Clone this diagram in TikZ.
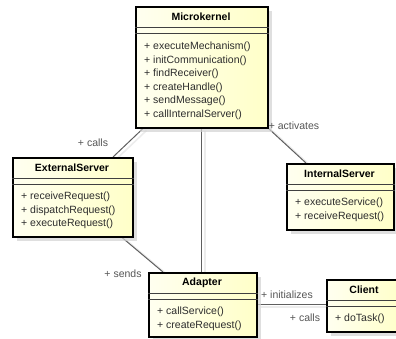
\documentclass[tikz,border=0pt]{standalone}
\usepackage{fontspec}
\setmainfont{Liberation Sans}
\usetikzlibrary{shadows,calc}
\pgfdeclarelayer{bg}
\pgfsetlayers{bg,main}
\definecolor{boxA}{RGB}{255,255,240}
\definecolor{boxB}{RGB}{255,255,200}
\definecolor{txt}{RGB}{45,45,45}
\definecolor{lbltxt}{RGB}{85,85,85}
\definecolor{connc}{RGB}{95,95,95}
\definecolor{connsh}{RGB}{236,236,236}
\begin{document}
\begin{tikzpicture}[x=1pt,y=-1pt,
  cls/.style={draw=black, line width=1.5pt, rectangle, inner sep=0pt, anchor=north west,
    left color=boxA, right color=boxB,
    drop shadow={shadow xshift=4pt, shadow yshift=-4pt, fill=black!18, opacity=0.7}},
  ctitle/.style={font=\fontsize{10.5}{12}\selectfont\bfseries, text=black, inner sep=0pt},
  meth/.style={font=\fontsize{10.5}{12}\selectfont, text=txt, inner sep=0pt, anchor=west},
  lbl/.style={font=\fontsize{10.5}{12}\selectfont, text=lbltxt, inner sep=0pt},
  sepl/.style={draw=black!75, line width=0.8pt},
  conn/.style={draw=connc, line width=1pt},
  connshadow/.style={draw=connsh, line width=1.6pt, transform canvas={xshift=3.5pt,yshift=-2pt}}
]
\useasboundingbox (0,0) rectangle (396,338);

% Microkernel
\node[cls, minimum width=132pt, minimum height=121pt] (mk) at (135,6) {};
\node[ctitle] (mkt) at (201,16.5) {Microkernel};
\draw[sepl] (mk.west |- 0,27) -- (mk.east |- 0,27);
\draw[sepl] (mk.west |- 0,33) -- (mk.east |- 0,33);
\node[meth] (mk1) at (144,47) {+ executeMechanism()};
\node[meth] (mk2) at (144,60.5) {+ initCommunication()};
\node[meth] (mk3) at (144,74) {+ findReceiver()};
\node[meth] (mk4) at (144,87.5) {+ createHandle()};
\node[meth] (mk5) at (144,101) {+ sendMessage()};
\node[meth] (mk6) at (144,114.5) {+ callInternalServer()};

% ExternalServer
\node[cls, minimum width=120pt, minimum height=79pt] (es) at (12,157) {};
\node[ctitle] (est) at (72,167.5) {ExternalServer};
\draw[sepl] (es.west |- 0,178) -- (es.east |- 0,178);
\draw[sepl] (es.west |- 0,184) -- (es.east |- 0,184);
\node[meth] (es1) at (21,197) {+ receiveRequest()};
\node[meth] (es2) at (21,210.5) {+ dispatchRequest()};
\node[meth] (es3) at (21,224) {+ executeRequest()};

% InternalServer
\node[cls, minimum width=107pt, minimum height=66pt] (is) at (286,163) {};
\node[ctitle] (ist) at (339.5,173.5) {InternalServer};
\draw[sepl] (is.west |- 0,184) -- (is.east |- 0,184);
\draw[sepl] (is.west |- 0,190) -- (is.east |- 0,190);
\node[meth] (is1) at (295,203) {+ executeService()};
\node[meth] (is2) at (295,216.5) {+ receiveRequest()};

% Adapter
\node[cls, minimum width=108pt, minimum height=64pt] (ad) at (148,272) {};
\node[ctitle] (adt) at (202,282.5) {Adapter};
\draw[sepl] (ad.west |- 0,293) -- (ad.east |- 0,293);
\draw[sepl] (ad.west |- 0,299) -- (ad.east |- 0,299);
\node[meth] (ad1) at (157,312) {+ callService()};
\node[meth] (ad2) at (157,325.5) {+ createRequest()};

% Client
\node[cls, minimum width=76pt, minimum height=52pt] (cl) at (326,279) {};
\node[ctitle] (clt) at (364,290) {Client};
\draw[sepl] (cl.west |- 0,300) -- (cl.east |- 0,300);
\draw[sepl] (cl.west |- 0,306) -- (cl.east |- 0,306);
\node[meth] (cl1) at (335,319) {+ doTask()};

% connectors
\begin{pgfonlayer}{bg}
\draw[connshadow] ($(mk.south west)+(8,0)$) -- ($(es.north west)+(101,0)$);
\draw[connshadow] (mk.south) -- (mk.south |- ad.north);
\draw[connshadow] (mk.south east) -- ($(is.north west)+(20,0)$);
\draw[connshadow] ($(es.south west)+(110,0)$) -- ($(ad.north west)+(15,0)$);
\draw[connshadow] (ad.east) -- (ad.east -| cl.west);
\draw[conn] ($(mk.south west)+(8,0)$) -- ($(es.north west)+(101,0)$);
\draw[conn] (mk.south) -- (mk.south |- ad.north);
\draw[conn] (mk.south east) -- ($(is.north west)+(20,0)$);
\draw[conn] ($(es.south west)+(110,0)$) -- ($(ad.north west)+(15,0)$);
\draw[conn] (ad.east) -- (ad.east -| cl.west);
\end{pgfonlayer}

% labels
\node[lbl] (l1) at (93,143) {+ calls};
\node[lbl] (l2) at (294,126) {+ activates};
\node[lbl] (l3) at (123,274) {+ sends};
\node[lbl] (l4) at (287,295) {+ initializes};
\node[lbl] (l5) at (305,318) {+ calls};
\end{tikzpicture}
\end{document}
